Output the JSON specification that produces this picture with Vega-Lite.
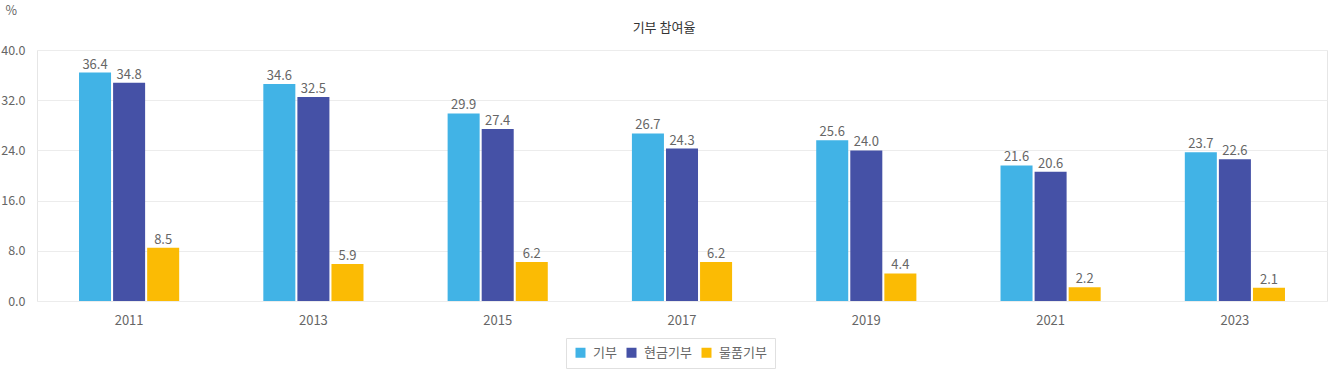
{
  "$schema": "https://vega.github.io/schema/vega-lite/v6.json",
  "autosize": "none",
  "width": 1290,
  "height": 251,
  "padding": {"left": 37, "top": 50, "right": 1, "bottom": 69},
  "background": "white",
  "config": {
    "font": "Noto Sans CJK KR",
    "view": {"stroke": "#e6e6e6"},
    "axis": {"labelColor": "#666666", "labelFontSize": 12, "gridColor": "#ececec", "ticks": false, "domain": false}
  },
  "title": {"text": "기부 참여율", "fontSize": 13, "fontWeight": "normal", "color": "#333333", "anchor": "middle", "offset": 14, "dx": -18, "dy": 45},
  "data": {"values": [
    {"year": "2011", "type": "기부", "v": 36.4},
    {"year": "2011", "type": "현금기부", "v": 34.8},
    {"year": "2011", "type": "물품기부", "v": 8.5},
    {"year": "2013", "type": "기부", "v": 34.6},
    {"year": "2013", "type": "현금기부", "v": 32.5},
    {"year": "2013", "type": "물품기부", "v": 5.9},
    {"year": "2015", "type": "기부", "v": 29.9},
    {"year": "2015", "type": "현금기부", "v": 27.4},
    {"year": "2015", "type": "물품기부", "v": 6.2},
    {"year": "2017", "type": "기부", "v": 26.7},
    {"year": "2017", "type": "현금기부", "v": 24.3},
    {"year": "2017", "type": "물품기부", "v": 6.2},
    {"year": "2019", "type": "기부", "v": 25.6},
    {"year": "2019", "type": "현금기부", "v": 24.0},
    {"year": "2019", "type": "물품기부", "v": 4.4},
    {"year": "2021", "type": "기부", "v": 21.6},
    {"year": "2021", "type": "현금기부", "v": 20.6},
    {"year": "2021", "type": "물품기부", "v": 2.2},
    {"year": "2023", "type": "기부", "v": 23.7},
    {"year": "2023", "type": "현금기부", "v": 22.6},
    {"year": "2023", "type": "물품기부", "v": 2.1}
  ]},
  "encoding": {
    "x": {"field": "year", "type": "nominal", "scale": {"paddingInner": 0.4565, "paddingOuter": 0.228},
      "axis": {"title": null, "labelAngle": 0, "labelPadding": 13, "labelFontSize": 13, "grid": false}},
    "xOffset": {"field": "type", "type": "nominal", "sort": ["기부", "현금기부", "물품기부"], "scale": {"paddingInner": 0.06}},
    "y": {"field": "v", "type": "quantitative", "scale": {"domain": [0, 40]},
      "axis": {"values": [0, 8, 16, 24, 32, 40], "format": ".1f", "labelPadding": 12, "labelFontSize": 12.5, "title": "%", "titleAngle": 0, "titleX": -32, "titleY": -40, "titleAlign": "left", "titleBaseline": "middle", "titleFontWeight": "normal", "titleFontSize": 12.5, "titleColor": "#666666"}}
  },
  "layer": [
    {"mark": {"type": "bar"},
     "encoding": {
       "color": {"field": "type", "type": "nominal", "sort": ["기부", "현금기부", "물품기부"],
         "scale": {"domain": ["기부", "현금기부", "물품기부"], "range": ["#41b3e6", "#4551a6", "#fbbb04"]},
         "legend": {"title": null, "orient": "none", "direction": "horizontal", "legendX": 529, "legendY": 288,
           "strokeColor": "#e0e0e0", "padding": 8, "symbolType": "square", "symbolSize": 100, "symbolStrokeWidth": 0,
           "labelFontSize": 13, "labelColor": "#666666", "columnPadding": 8, "labelOffset": 6}}
     }},
    {"mark": {"type": "text", "dy": -8, "fontSize": 13, "color": "#666666"},
     "encoding": {"text": {"field": "v", "type": "quantitative", "format": ".1f"}}}
  ]
}
